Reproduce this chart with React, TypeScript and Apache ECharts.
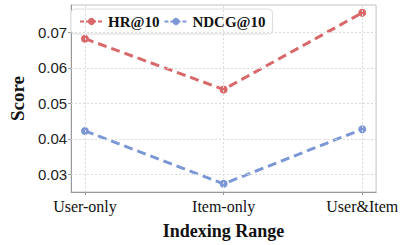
import React, { useEffect, useRef } from "react";
import * as echarts from "echarts";

const categories = ["User-only", "Item-only", "User&Item"];
const hrValues = [0.0682, 0.0539, 0.0755];
const ndcgValues = [0.0422, 0.0273, 0.0427];
const yTicks = [0.03, 0.04, 0.05, 0.06, 0.07];
const seriesNames = ["HR@10", "NDCG@10"];

const RED = "#d9686b";
const BLUE = "#7b97d6";
const SERIF = "'Liberation Serif', 'Times New Roman', serif";
const SANS = "'Liberation Sans', Arial, sans-serif";

export default function App() {
  const ref = useRef<HTMLDivElement>(null);
  useEffect(() => {
    if (!ref.current) return;
    const chart = echarts.init(ref.current, null, { renderer: "svg" });
    const xIdx = categories.map((_, i) => i);
    const gridLines = [
      ...xIdx.map((i) => ({ xAxis: i })),
      ...yTicks.map((v) => ({ yAxis: v })),
    ];
    chart.setOption({
      animation: false,
      grid: {
        left: 66,
        top: 5,
        right: 2,
        bottom: 48,
        show: true,
        borderColor: "#c4c4c4",
        borderWidth: 1,
      },
      legend: {
        data: seriesNames,
        left: 71,
        top: 9,
        itemWidth: 23,
        itemHeight: 9,
        itemGap: 4,
        padding: [5, 7, 5, 8],
        borderColor: "#dcdcdc",
        borderWidth: 1,
        borderRadius: 4,
        backgroundColor: "#fff",
        lineStyle: { type: [4, 2], width: 2 },
        itemStyle: { borderWidth: 0 },
        textStyle: { fontFamily: SERIF, fontWeight: "bold", fontSize: 15, color: "#111" },
      },
      xAxis: {
        type: "value",
        min: -0.1,
        max: 2.1,
        name: "Indexing Range",
        nameLocation: "middle",
        nameGap: 30,
        nameTextStyle: { fontFamily: SERIF, fontWeight: "bold", fontSize: 18, color: "#111" },
        axisLine: { show: true, onZero: false, lineStyle: { color: "#999" } },
        axisTick: { show: true, length: 3, customValues: xIdx, lineStyle: { color: "#999" } },
        axisLabel: {
          customValues: xIdx,
          formatter: (v: number) => categories[Math.round(v)] ?? "",
          fontFamily: SERIF,
          fontSize: 16,
          color: "#111",
          margin: 6,
        },
        splitLine: { show: false },
      },
      yAxis: {
        type: "value",
        min: 0.025,
        max: 0.0777,
        name: "Score",
        nameLocation: "middle",
        nameGap: 40,
        nameTextStyle: { fontFamily: SERIF, fontWeight: "bold", fontSize: 19, color: "#111" },
        axisLine: { show: true, onZero: false, lineStyle: { color: "#999" } },
        axisTick: { show: true, length: 3, customValues: yTicks, lineStyle: { color: "#999" } },
        axisLabel: {
          customValues: yTicks,
          formatter: (v: number) => v.toFixed(2),
          fontFamily: SANS,
          fontSize: 15,
          color: "#222",
          margin: 4,
        },
        splitLine: { show: false },
      },
      series: [
        {
          type: "line",
          data: [],
          z: 1,
          silent: true,
          markLine: {
            silent: true,
            symbol: "none",
            label: { show: false },
            lineStyle: { color: "#dadada", type: [2, 2], width: 1 },
            data: gridLines,
          },
        },
        {
          name: seriesNames[0],
          type: "line",
          z: 3,
          data: hrValues.map((v, i) => [i, v]),
          symbol: "circle",
          symbolSize: 8,
          itemStyle: { color: RED, borderWidth: 0 },
          lineStyle: { color: RED, width: 3, type: [9, 5] },
        },
        {
          name: seriesNames[1],
          type: "line",
          z: 3,
          data: ndcgValues.map((v, i) => [i, v]),
          symbol: "circle",
          symbolSize: 8,
          itemStyle: { color: BLUE, borderWidth: 0 },
          lineStyle: { color: BLUE, width: 3, type: [9, 5] },
        },
      ],
    });
    return () => chart.dispose();
  }, []);
  return (
    <div
      ref={ref}
      style={{ position: "absolute", left: 0, top: 0, width: 401, height: 245 }}
    />
  );
}
